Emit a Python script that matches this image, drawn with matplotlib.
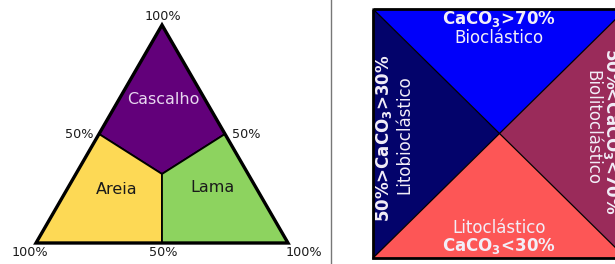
import matplotlib
matplotlib.use("Agg")
import matplotlib.pyplot as plt
from matplotlib.patches import Polygon, Rectangle

# ---- data ----
tri_regions = ["Cascalho", "Areia", "Lama"]
tri_colors = ["#62007a", "#fdd955", "#8dd35f"]
tri_text_colors = ["#e8d8f0", "#1a1a1a", "#1a1a1a"]
tri_tick_labels = ["100%", "50%", "50%", "100%", "50%", "100%"]

sq_classes = ["Bioclástico", "Litobioclástico", "Biolitoclástico", "Litoclástico"]
sq_ranges = ["CaCO$_\\mathbf{3}$>70%", "50%>CaCO$_\\mathbf{3}$>30%",
             "50%<CaCO$_\\mathbf{3}$<70%", "CaCO$_\\mathbf{3}$<30%"]
sq_colors = ["#0000fa", "#03036b", "#9a2b5a", "#fd5656"]

# ---- layout (pixels) ----
W, H = 615, 264
fig = plt.figure(figsize=(W / 100, H / 100), dpi=100)
ax = fig.add_axes([0, 0, 1, 1])
ax.set_xlim(0, W)
ax.set_ylim(H, 0)
ax.axis("off")

# triangle geometry
top = (162, 25)
bl = (36, 243)
br = (288, 243)
ml = ((top[0] + bl[0]) / 2, (top[1] + bl[1]) / 2)
mr = ((top[0] + br[0]) / 2, (top[1] + br[1]) / 2)
mb = ((bl[0] + br[0]) / 2, 243)
ctr = (162, 174)

polys = [
    [top, mr, ctr, ml],
    [ml, ctr, mb, bl],
    [ctr, mr, br, mb],
]
for pts, col in zip(polys, tri_colors):
    ax.add_patch(Polygon(pts, closed=True, facecolor=col, edgecolor="black", lw=1.3, zorder=1))
ax.add_patch(Polygon([top, br, bl], closed=True, fill=False, edgecolor="black", lw=2.4, zorder=3, joinstyle="miter"))

label_pos = [(163, 99), (117, 190), (212, 188)]
for name, pos, tc in zip(tri_regions, label_pos, tri_text_colors):
    ax.text(pos[0], pos[1], name, ha="center", va="center", fontsize=11.5, color=tc, zorder=4)

tick_pos = [(163, 16), (79, 134), (246, 134), (30, 252), (163, 252), (304, 252)]
for lab, pos in zip(tri_tick_labels, tick_pos):
    ax.text(pos[0], pos[1], lab, ha="center", va="center", fontsize=9.2, color="#1a1a1a")

# separator
ax.plot([331, 331], [0, H], color="#777777", lw=1.0)

# square geometry
L, T = 373, 9
R, B = 626, 258
cx, cy = (L + R) / 2, (T + B) / 2
tris = [
    [(L, T), (R, T), (cx, cy)],
    [(L, T), (cx, cy), (L, B)],
    [(R, T), (R, B), (cx, cy)],
    [(L, B), (cx, cy), (R, B)],
]
for pts, col in zip(tris, sq_colors):
    ax.add_patch(Polygon(pts, closed=True, facecolor=col, edgecolor="none", zorder=1))
ax.plot([L, R], [T, B], color="black", lw=0.9, zorder=2)
ax.plot([L, R], [B, T], color="black", lw=0.9, zorder=2)
ax.add_patch(Rectangle((L, T), R - L, B - T, fill=False, edgecolor="black", lw=2.0, zorder=3))

tc = "#f2eef8"
# top
ax.text(cx - 0.5, 19, sq_ranges[0], ha="center", va="center", fontsize=12, fontweight="bold", color=tc)
ax.text(cx - 0.5, 38, sq_classes[0], ha="center", va="center", fontsize=12, color=tc)
# left
ax.text(384, 138, sq_ranges[1], ha="center", va="center", fontsize=12, fontweight="bold", color=tc, rotation=90)
ax.text(404, 135, sq_classes[1], ha="center", va="center", fontsize=12, color=tc, rotation=90)
# right
ax.text(611, 131, sq_ranges[2], ha="center", va="center", fontsize=12, fontweight="bold", color=tc, rotation=-90)
ax.text(592, 128, sq_classes[2], ha="center", va="center", fontsize=12, color=tc, rotation=-90)
# bottom
ax.text(cx - 0.5, 228, sq_classes[3], ha="center", va="center", fontsize=12, color=tc)
ax.text(cx - 0.5, 246.5, sq_ranges[3], ha="center", va="center", fontsize=12, fontweight="bold", color=tc)

fig.savefig("out.png", dpi=100)
